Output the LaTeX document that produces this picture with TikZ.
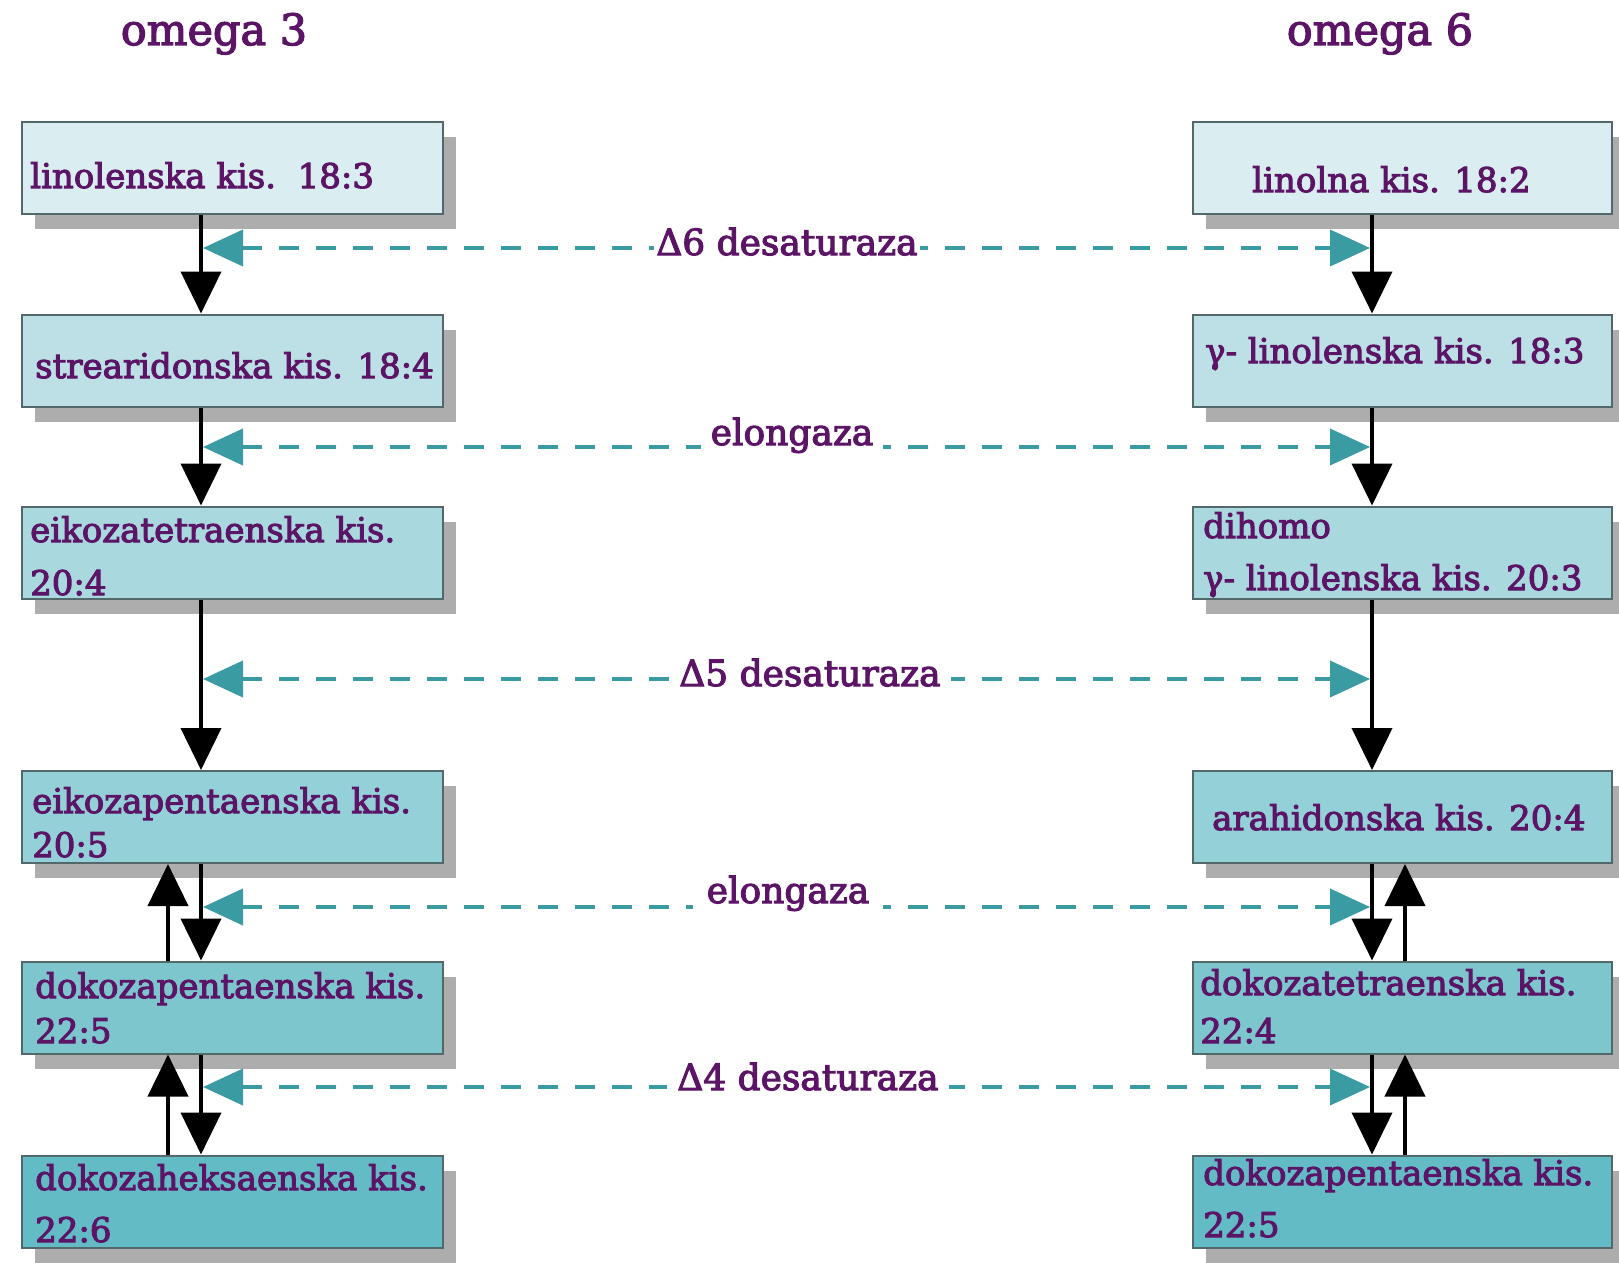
\documentclass[tikz,border=0pt]{standalone}
\usepackage{fontspec}
\setmainfont{DejaVu Serif}
\newfontface\heavyserif{DejaVu Serif}[FakeBold=3]
\usetikzlibrary{arrows.meta,shadows}
\definecolor{txtpurple}{HTML}{5C1566}
\definecolor{tealarrow}{HTML}{3A9BA3}
\definecolor{boxline}{HTML}{52686B}
\definecolor{shadowgrey}{HTML}{ADADAD}
\definecolor{fillA}{HTML}{DAEEF1}
\definecolor{fillB}{HTML}{BCE0E5}
\definecolor{fillC}{HTML}{A9D9DF}
\definecolor{fillD}{HTML}{94D0D7}
\definecolor{fillE}{HTML}{7DC6CE}
\definecolor{fillF}{HTML}{63BBC5}
\tikzset{
  box/.style={draw=boxline, line width=2pt, minimum height=92pt, inner sep=0pt,
    drop shadow={shadow xshift=13pt, shadow yshift=-15pt, fill=shadowgrey, opacity=1}},
  lbox/.style={box, minimum width=421pt},
  rbox/.style={box, minimum width=419pt},
  txt/.style={text=txtpurple, anchor=base west, inner sep=0pt, font=\heavyserif\fontsize{34}{40}\selectfont},
  ttl/.style={text=txtpurple, anchor=base, inner sep=0pt, font=\heavyserif\fontsize{43}{46}\selectfont},
  lbl/.style={fill=white, text=txtpurple, anchor=base, inner sep=5pt, font=\heavyserif\fontsize{36}{40}\selectfont},
  blk/.style={line width=4pt, -{Triangle[length=42pt,width=40pt]}},
  dsh/.style={draw=tealarrow, line width=4pt, dash pattern=on 20pt off 17pt,
    {Triangle[length=40pt,width=36pt,fill=tealarrow]}-{Triangle[length=40pt,width=36pt,fill=tealarrow]}}
}
\begin{document}
\begin{tikzpicture}[x=1pt,y=-1pt]
\fill[white] (0,0) rectangle (1619,1263);
\useasboundingbox (0,0) rectangle (1619,1263);

% titles
\node[ttl] (t3) at (214,45) {omega 3};
\node[ttl] (t6) at (1380,45) {omega 6};

% left boxes
\node[lbox, fill=fillA] (L1) at (232.5,167.5) {};
\node[lbox, fill=fillB] (L2) at (232.5,360.5) {};
\node[lbox, fill=fillC] (L3) at (232.5,552.5) {};
\node[lbox, fill=fillD] (L4) at (232.5,817) {};
\node[lbox, fill=fillE] (L5) at (232.5,1007.5) {};
\node[lbox, fill=fillF] (L6) at (232.5,1201.5) {};
% right boxes
\node[rbox, fill=fillA] (R1) at (1402.5,167.5) {};
\node[rbox, fill=fillB] (R2) at (1402.5,360.5) {};
\node[rbox, fill=fillC] (R3) at (1402.5,552.5) {};
\node[rbox, fill=fillD] (R4) at (1402.5,817) {};
\node[rbox, fill=fillE] (R5) at (1402.5,1007.5) {};
\node[rbox, fill=fillF] (R6) at (1402.5,1201.5) {};

% left texts
\node[txt] (l1a) at (30,188) {linolenska kis.\ \ 18:3};
\node[txt] (l2a) at (35,378) {strearidonska kis. 18:4};
\node[txt] (l3a) at (30,542) {eikozatetraenska kis.};
\node[txt] (l3b) at (30,595) {20:4};
\node[txt] (l4a) at (32,813) {eikozapentaenska kis.};
\node[txt] (l4b) at (32,857) {20:5};
\node[txt] (l5a) at (35,998) {dokozapentaenska kis.};
\node[txt] (l5b) at (35,1043) {22:5};
\node[txt] (l6a) at (35,1190) {dokozaheksaenska kis.};
\node[txt] (l6b) at (35,1242) {22:6};
% right texts
\node[txt] (r1a) at (1252,192) {linolna kis. 18:2};
\node[txt] (r2a) at (1205,363) {γ- linolenska kis. 18:3};
\node[txt] (r3a) at (1203,538) {dihomo};
\node[txt] (r3b) at (1203,590) {γ- linolenska kis. 20:3};
\node[txt] (r4a) at (1212,830) {arahidonska kis. 20:4};
\node[txt] (r5a) at (1200,995) {dokozatetraenska kis.};
\node[txt] (r5b) at (1200,1043) {22:4};
\node[txt] (r6a) at (1203,1185) {dokozapentaenska kis.};
\node[txt] (r6b) at (1203,1237) {22:5};

% left down arrows
\draw[blk] ([xshift=-31.5pt]L1.south) -- ([xshift=-31.5pt]L2.north);
\draw[blk] ([xshift=-31.5pt]L2.south) -- ([xshift=-31.5pt]L3.north);
\draw[blk] ([xshift=-31.5pt]L3.south) -- ([xshift=-31.5pt]L4.north);
\draw[blk] ([xshift=-31.5pt]L4.south) -- ([xshift=-31.5pt]L5.north);
\draw[blk] ([xshift=-31.5pt]L5.south) -- ([xshift=-31.5pt]L6.north);
% left up arrows
\draw[blk] ([xshift=-64.5pt]L5.north) -- ([xshift=-64.5pt]L4.south);
\draw[blk] ([xshift=-64.5pt]L6.north) -- ([xshift=-64.5pt]L5.south);
% right down arrows
\draw[blk] ([xshift=-30.5pt]R1.south) -- ([xshift=-30.5pt]R2.north);
\draw[blk] ([xshift=-30.5pt]R2.south) -- ([xshift=-30.5pt]R3.north);
\draw[blk] ([xshift=-30.5pt]R3.south) -- ([xshift=-30.5pt]R4.north);
\draw[blk] ([xshift=-30.5pt]R4.south) -- ([xshift=-30.5pt]R5.north);
\draw[blk] ([xshift=-30.5pt]R5.south) -- ([xshift=-30.5pt]R6.north);
% right up arrows
\draw[blk] ([xshift=2.5pt]R5.north) -- ([xshift=2.5pt]R4.south);
\draw[blk] ([xshift=2.5pt]R6.north) -- ([xshift=2.5pt]R5.south);

% dashed enzyme arrows
\coordinate (d1l) at (203,248);  \coordinate (d1r) at (1370,248);
\coordinate (d2l) at (203,447);  \coordinate (d2r) at (1370,447);
\coordinate (d3l) at (203,679);  \coordinate (d3r) at (1370,679);
\coordinate (d4l) at (203,907);  \coordinate (d4r) at (1370,907);
\coordinate (d5l) at (203,1087); \coordinate (d5r) at (1370,1087);
\draw[dsh] (d1l) -- (d1r);
\draw[dsh] (d2l) -- (d2r);
\draw[dsh] (d3l) -- (d3r);
\draw[dsh] (d4l) -- (d4r);
\draw[dsh] (d5l) -- (d5r);

% enzyme labels
\node[lbl, inner sep=2pt] (e1) at (787,255) {Δ6 desaturaza};
\node[lbl, inner sep=10pt] (e2) at (792,445) {elongaza};
\node[lbl, inner sep=10pt] (e3) at (810,686) {Δ5 desaturaza};
\node[lbl, inner sep=14pt] (e4) at (788,903) {elongaza};
\node[lbl, inner sep=10pt] (e5) at (808,1090) {Δ4 desaturaza};
\end{tikzpicture}
\end{document}
